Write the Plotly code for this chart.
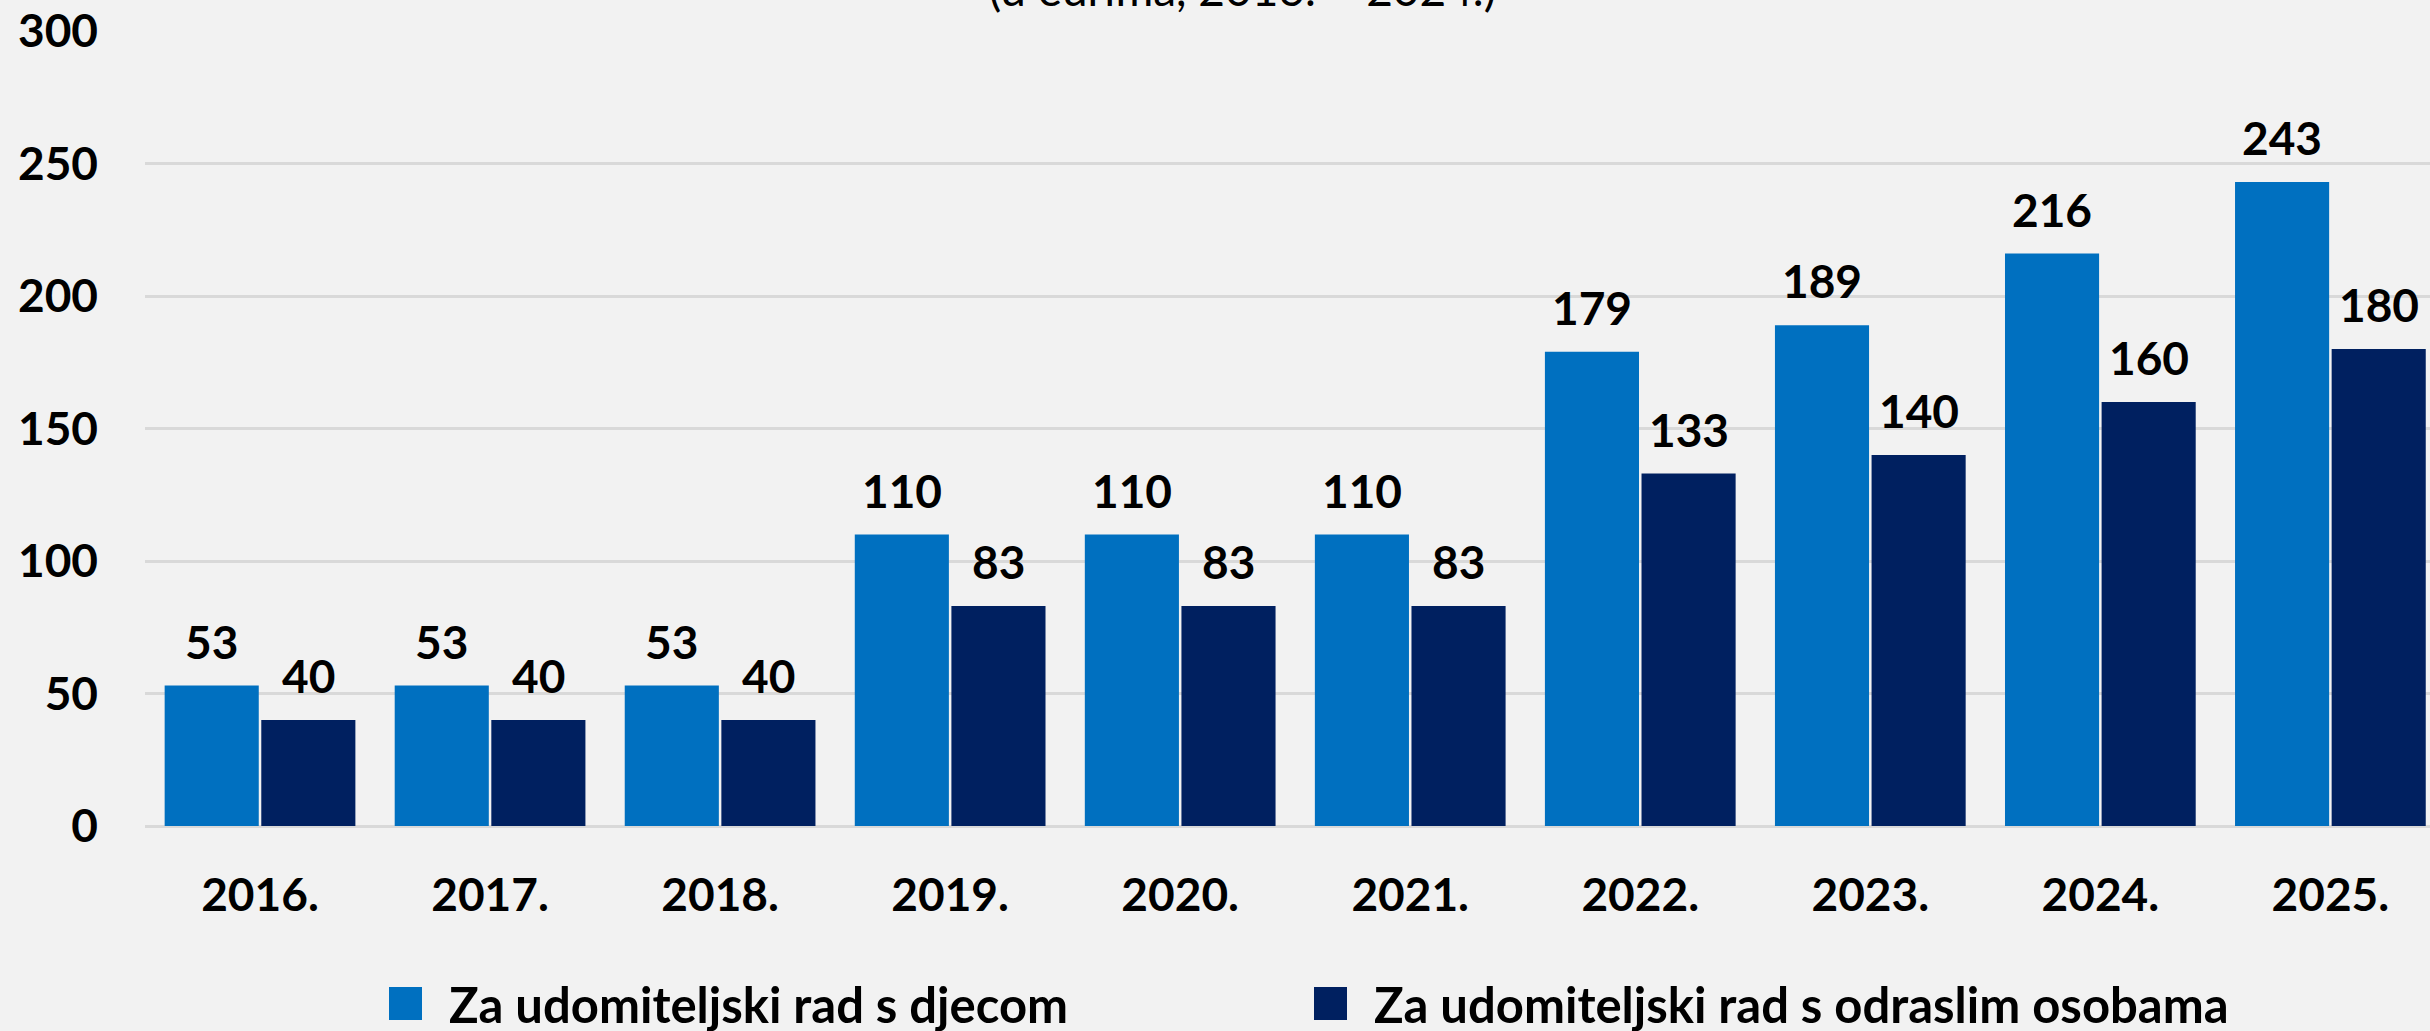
import plotly.graph_objects as go

YEARS = ["2016.", "2017.", "2018.", "2019.", "2020.", "2021.", "2022.", "2023.", "2024.", "2025."]
DJECA = [53, 53, 53, 110, 110, 110, 179, 189, 216, 243]
ODRASLI = [40, 40, 40, 83, 83, 83, 133, 140, 160, 180]
SERIES_NAMES = ["Za udomiteljski rad s djecom", "Za udomiteljski rad s odraslim osobama"]
Y_TICKS = [0, 50, 100, 150, 200, 250, 300]
SUBTITLE = "(u eurima, 2016. – 2024.)"

BLUE = "#0070C0"
NAVY = "#002060"
BG = "#F2F2F2"
GRID = "#D9D9D9"
FONT = "Lato, 'Open Sans', sans-serif"

W, H = 2430, 1031
M_L, M_R, M_T, M_B = 145, 0, 31, 205
PW = W - M_L - M_R
PH = H - M_T - M_B


def px_x(p):
    # pixel -> paper fraction
    return (p - M_L) / PW


def px_y(p):
    return (H - M_B - p) / PH


fig = go.Figure()
fig.add_trace(go.Bar(name=SERIES_NAMES[0], x=YEARS, y=DJECA, marker_color=BLUE,
                     marker_line_width=0))
fig.add_trace(go.Bar(name=SERIES_NAMES[1], x=YEARS, y=ODRASLI, marker_color=NAVY,
                     marker_line_width=0))

# value labels above bars
annotations = []
for vals, shift in ((DJECA, -48.5), (ODRASLI, 48.5)):
    for i, v in enumerate(vals):
        annotations.append(dict(
            x=i, y=v, xref="x", yref="y", text=str(v), showarrow=False,
            xshift=shift, yshift=15, yanchor="bottom",
            font=dict(family=FONT, size=46, color="#000000", weight="bold"),
        ))

# subtitle, cut off at top like in the source image
annotations.append(dict(
    x=px_x(1242), y=1, xref="paper", yref="paper", text=SUBTITLE,
    showarrow=False, yanchor="bottom", yshift=13,
    font=dict(family=FONT, size=46, color="#000000"),
))

# manual legend (large square keys)
shapes = []
for name, col, sq_x in ((SERIES_NAMES[0], BLUE, 389), (SERIES_NAMES[1], NAVY, 1314)):
    shapes.append(dict(type="rect", xref="paper", yref="paper",
                       x0=px_x(sq_x), x1=px_x(sq_x + 33),
                       y0=px_y(1020), y1=px_y(987),
                       fillcolor=col, line_width=0))
    annotations.append(dict(
        x=px_x(sq_x + 58), y=px_y(1004), xref="paper", yref="paper",
        text=name, showarrow=False, xanchor="left", yanchor="middle",
        font=dict(family=FONT, size=49, color="#000000", weight="bold"),
    ))

fig.update_layout(
    width=W, height=H,
    paper_bgcolor=BG, plot_bgcolor=BG,
    barmode="group", bargap=0.16, bargroupgap=0.026,
    showlegend=False,
    margin=dict(l=M_L, r=M_R, t=M_T, b=M_B),
    annotations=annotations, shapes=shapes,
    font=dict(family=FONT, size=46, color="#000000"),
)
fig.update_xaxes(
    type="category", range=[-0.5, 9.433], showgrid=False, showline=False, zeroline=False,
    tickfont=dict(family=FONT, size=46, color="#000000", weight="bold"),
    ticklabelstandoff=38,
)
fig.update_yaxes(
    range=[0, 300], tickvals=Y_TICKS, showgrid=True, gridcolor=GRID, gridwidth=3,
    zeroline=True, zerolinecolor=GRID, zerolinewidth=3, showline=False,
    tickfont=dict(family=FONT, size=46, color="#000000", weight="bold"),
    ticklabelstandoff=46, ticklabeloverflow="allow",
)

# drop the default body margin so the figure fills the window
fig.write_html(
    "out.html",
    config={"displayModeBar": False},
    post_script="document.body.style.margin='0';document.body.style.background='#F2F2F2';",
)
